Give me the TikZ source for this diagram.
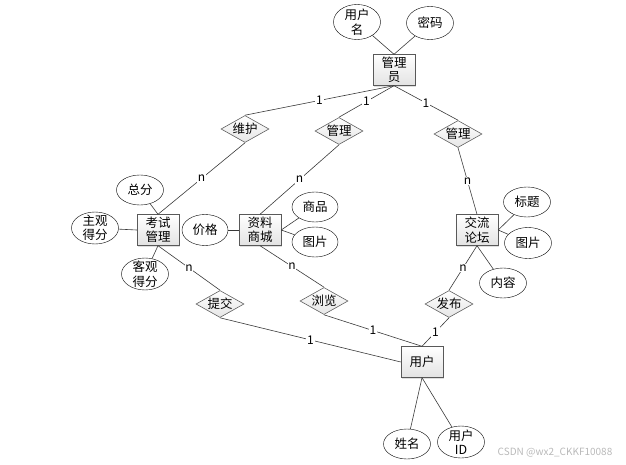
\documentclass[tikz,border=0pt]{standalone}
\usepackage{fontspec}
\newfontfamily\cjk{Noto Sans CJK SC}
\usetikzlibrary{shapes.geometric,shadows}
\tikzset{
    entity/.style={rectangle, draw=gray!70!black, top color=white, bottom color=gray!22,
        drop shadow={shadow xshift=1.2pt, shadow yshift=-1.2pt, opacity=0.25},
        minimum width=42pt, minimum height=31pt, inner sep=0pt, align=center,
        font=\cjk\fontsize{12.5}{14.5}\selectfont},
    attr/.style={ellipse, draw, fill=white, minimum width=47pt, minimum height=30pt,
        inner sep=0pt, font=\cjk\fontsize{12.5}{14.5}\selectfont},
    attrtwo/.style={attr, minimum height=32pt,
        label={[align=center, font=\cjk\fontsize{12.5}{14.5}\selectfont]center:#1}},
    rel/.style={diamond, draw=gray!75!black, line width=0.6pt, top color=white, bottom color=gray!20,
        aspect=1.8, inner sep=0pt, minimum width=48pt, minimum height=27pt,
        font=\cjk\fontsize{12.5}{14.5}\selectfont},
    card/.style={fill=white, inner sep=0.8pt, font=\cjk\fontsize{12}{13}\selectfont},
    link/.style={draw=gray!45!black, line width=0.6pt}
}
\begin{document}
\begin{tikzpicture}[x=1pt, y=-1pt]
    \useasboundingbox (0,0) rectangle (626,465);
    % entities
    \node[entity] (mgr) at (394,70) {管理\\员};
    \node[entity] (exam) at (158,230) {考试\\管理};
    \node[entity] (shop) at (260,230) {资料\\商城};
    \node[entity] (forum) at (477,230) {交流\\论坛};
    \node[entity] (user) at (422,362) {用户};
    % relations
    \node[rel] (maintain) at (245,129) {维护};
    \node[rel] (manageA) at (339,131) {管理};
    \node[rel] (manageB) at (458,134) {管理};
    \node[rel] (submit) at (220,304) {提交};
    \node[rel] (browse) at (324,301) {浏览};
    \node[rel] (post) at (449,304) {发布};
    % attributes
    \node[attrtwo={用户\\名}, minimum height=35pt] (uname) at (357,22) {};
    \node[attr, minimum height=33pt] (pwd) at (430,23) {密码};
    \node[attr] (total) at (140,190) {总分};
    \node[attrtwo={主观\\得分}] (subj) at (95,228) {};
    \node[attrtwo={客观\\得分}] (obj) at (145,274) {};
    \node[attr, minimum width=46pt, minimum height=31pt] (price) at (205,230) {价格};
    \node[attr, minimum width=46pt] (goods) at (315,207) {商品};
    \node[attr, minimum width=46pt] (picA) at (315,242) {图片};
    \node[attr] (title) at (527,202) {标题};
    \node[attr, minimum height=31pt] (picB) at (528,243) {图片};
    \node[attr] (content) at (503,283) {内容};
    \node[attr] (name) at (407,444) {姓名};
    \node[attrtwo={用户\\ID}] (uid) at (461,442) {};
    % links with cardinality
    \draw[link] (mgr.south) -- node[card] {1} (maintain.north);
    \draw[link] (mgr.south) -- node[card] {1} (manageA.north);
    \draw[link] (mgr.south) -- node[card] {1} (manageB.north);
    \draw[link] (maintain.south) -- node[card] {n} (exam.north);
    \draw[link] (manageA.south) -- node[card] {n} (shop.north);
    \draw[link] (manageB.south) -- node[card] {n} (forum.north);
    \draw[link] (exam.south) -- node[card] {n} (submit.north);
    \draw[link] (shop.south) -- node[card] {n} (browse.north);
    \draw[link] (forum.south) -- node[card] {n} (post.north);
    \draw[link] (submit.south) -- node[card] {1} (user.west);
    \draw[link] (browse.south) -- node[card] {1} (user.north);
    \draw[link] (post.south) -- node[card] {1} (user.north);
    % attribute links
    \draw[link] (uname) -- (mgr.north);
    \draw[link] (pwd) -- (mgr.north);
    \draw[link] (total) -- (exam.north);
    \draw[link] (subj) -- (exam.west);
    \draw[link] (obj) -- (exam.south);
    \draw[link] (price) -- (shop.west);
    \draw[link] (goods) -- (shop.east);
    \draw[link] (picA) -- (shop.east);
    \draw[link] (title) -- (forum.east);
    \draw[link] (picB) -- (forum.east);
    \draw[link] (content) -- (forum.south);
    \draw[link] (name) -- (user.south);
    \draw[link] (uid) -- (user.south);
    \node[text=gray!55, font=\cjk\fontsize{10}{11}\selectfont] (mark) at (555,453) {CSDN @wx2\_CKKF10088};
\end{tikzpicture}
\end{document}
